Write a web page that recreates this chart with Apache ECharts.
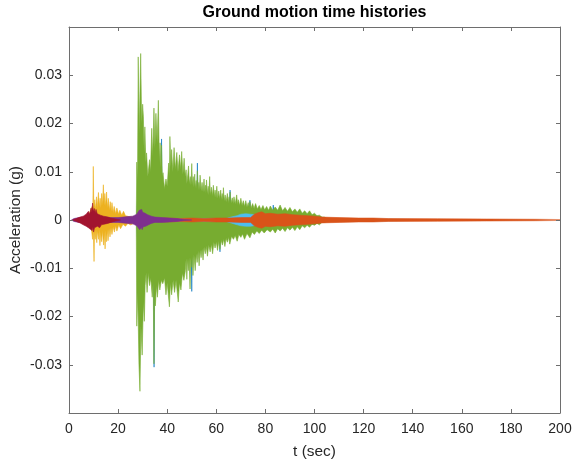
<!DOCTYPE html>
<html>
<head>
<meta charset="utf-8">
<script src="https://cdn.jsdelivr.net/npm/echarts@6/dist/echarts.min.js"></script>
<style>
html,body{margin:0;padding:0;background:#fff;}
#chart{width:575px;height:461px;}
</style>
</head>
<body>
<div id="chart"></div>
<script>
// Envelope readings (t [s], acceleration [g])
var blueUpper = [[27.5,0],[28,0.005],[37.5,0.005],[37.7,0.0168],[37.9,0.005],[50,0.005],[52.1,0.0045],[52.3,0.0118],[52.5,0.0045],[60,0.0035],[65.4,0.003],[65.6,0.0062],[65.8,0.003],[73.5,0.0024],[73.7,0.0041],[73.9,0.0022],[83,0.0018],[83.2,0.0031],[83.4,0.0018],[90,0.0015],[100,0.0009],[106,0.0002],[108,0]];
var blueLower = [[27.5,0],[28,-0.005],[34.5,-0.005],[34.65,-0.0305],[34.8,-0.005],[49.8,-0.005],[50.0,-0.0148],[50.2,-0.005],[61.4,-0.0036],[61.5,-0.0066],[61.6,-0.0036],[70,-0.0025],[83,-0.0016],[100,-0.0008],[106,-0.0002],[108,0]];

var greenUpper = [[27.4,0],[27.6,0.012],[27.9,0.008],[28.2,0.0338],[28.6,0.018],[29.2,0.0345],[29.6,0.02],[30.0,0.024],[30.3,0.0214],[30.6,0.014],[30.9,0.0193],[31.3,0.012],[31.6,0.0139],[32.1,0.009],[32.8,0.0125],[33.2,0.010],[33.7,0.019],[34.1,0.013],[34.6,0.0232],[35.0,0.015],[35.4,0.0221],[35.9,0.016],[36.4,0.0248],[36.8,0.012],[37.1,0.016],[37.4,0.011],[37.7,0.0155],[38.0,0.009],[38.3,0.0098],[38.9,0.0065],[39.5,0.0085],[40.0,0.007],[40.6,0.0118],[40.9,0.009],[41.1,0.0173],[41.5,0.011],[41.8,0.0146],[42.3,0.010],[42.8,0.015],[43.3,0.0105],[43.9,0.014],[44.4,0.010],[45.0,0.0135],[45.5,0.0105],[45.9,0.0142],[46.4,0.0095],[46.9,0.0128],[47.3,0.009],[47.7,0.0104],[48.0,0.0075],[48.4,0.0095],[48.7,0.0112],[49.0,0.0075],[49.4,0.009],[49.7,0.0072],[50.0,0.0117],[50.3,0.0072],[50.6,0.009],[50.9,0.0068],[51.2,0.0095],[51.5,0.0066],[51.8,0.0082],[52.0,0.0064],[52.3,0.0102],[52.6,0.0062],[52.9,0.0078],[53.1,0.0062],[53.4,0.0093],[53.8,0.006],[54.2,0.0078],[54.6,0.0058],[55.0,0.0085],[55.3,0.0058],[55.6,0.0072],[55.8,0.0056],[56.0,0.0083],[56.4,0.0054],[56.7,0.007],[57.0,0.0052],[57.3,0.009],[57.6,0.0052],[58.0,0.0068],[58.4,0.005],[58.8,0.0072],[59.2,0.0048],[59.5,0.0062],[59.9,0.0046],[60.2,0.007],[60.6,0.0045],[61.0,0.006],[61.4,0.0044],[61.8,0.0062],[62.1,0.0042],[62.4,0.0055],[62.7,0.0042],[62.9,0.0067],[63.2,0.004],[63.6,0.0052],[64.0,0.0038],[64.5,0.0055],[64.9,0.0036],[65.2,0.0048],[65.4,0.0036],[65.6,0.0058],[66.0,0.0035],[66.5,0.0046],[66.9,0.0034],[67.2,0.0048],[67.7,0.0033],[68.3,0.0052],[68.7,0.0032],[69.0,0.0042],[69.5,0.003],[70.0,0.0045],[70.5,0.003],[71.0,0.004],[71.5,0.0028],[72.0,0.004],[72.5,0.0027],[73.0,0.0036],[73.4,0.0027],[73.7,0.0038],[74.2,0.0025],[74.8,0.0034],[75.4,0.0024],[76.0,0.0034],[76.7,0.0023],[77.5,0.003],[78.2,0.0022],[79.0,0.003],[79.7,0.0021],[80.5,0.0028],[81.3,0.002],[82.0,0.0029],[83.0,0.002],[84.0,0.0027],[85.0,0.002],[86.0,0.0031],[87.0,0.0019],[88.0,0.0026],[89.0,0.0018],[90.0,0.0026],[91.0,0.0017],[92.0,0.0023],[93.0,0.0016],[94.0,0.0023],[95.0,0.0014],[96.0,0.0019],[97.0,0.0013],[98.0,0.0019],[99.0,0.0011],[100.0,0.0014],[101.0,0.0009],[102.0,0.001],[103,0.0006],[104.0,0.0006],[105,0.0003],[106.0,0.0002],[108,0]];
var greenLower = [[27.4,0],[27.6,-0.022],[28.0,-0.015],[28.5,-0.030],[28.9,-0.0355],[29.3,-0.022],[29.8,-0.028],[30.3,-0.017],[30.7,-0.021],[31.0,-0.0136],[31.4,-0.011],[31.8,-0.015],[32.3,-0.011],[32.8,-0.0136],[33.3,-0.012],[33.9,-0.016],[34.3,-0.013],[34.6,-0.0298],[34.9,-0.016],[35.2,-0.0178],[35.6,-0.0135],[36.0,-0.016],[36.5,-0.0125],[37.0,-0.0145],[37.6,-0.0125],[38.2,-0.0132],[38.9,-0.012],[39.5,-0.0155],[40.0,-0.013],[40.9,-0.018],[41.3,-0.013],[41.8,-0.0155],[42.4,-0.0125],[43.0,-0.015],[43.6,-0.0125],[44.5,-0.017],[45.0,-0.013],[45.6,-0.0145],[46.2,-0.011],[46.8,-0.0125],[47.4,-0.0105],[47.7,-0.008],[48.0,-0.0123],[48.3,-0.008],[48.6,-0.0105],[48.9,-0.0078],[49.3,-0.0143],[49.6,-0.0078],[49.9,-0.0098],[50.2,-0.0075],[50.5,-0.0115],[50.9,-0.0072],[51.4,-0.0105],[51.8,-0.007],[52.2,-0.0088],[52.6,-0.0065],[53.0,-0.0095],[53.4,-0.0062],[53.8,-0.0078],[54.2,-0.006],[54.6,-0.0083],[55.0,-0.0056],[55.5,-0.007],[55.9,-0.0054],[56.4,-0.0075],[56.9,-0.0052],[57.5,-0.0066],[58.0,-0.005],[58.5,-0.007],[59.0,-0.0046],[59.5,-0.0058],[60.0,-0.0045],[60.5,-0.0063],[61.0,-0.0044],[61.5,-0.0061],[62.0,-0.0042],[62.5,-0.0052],[63.0,-0.004],[63.5,-0.0055],[64.0,-0.0038],[64.5,-0.0046],[65.0,-0.0036],[65.5,-0.005],[66.2,-0.0034],[67.0,-0.004],[67.7,-0.0032],[68.5,-0.0044],[69.2,-0.003],[70.0,-0.0036],[70.7,-0.0029],[71.5,-0.004],[72.5,-0.0028],[73.7,-0.0037],[74.6,-0.0025],[75.5,-0.003],[76.5,-0.0023],[77.5,-0.0028],[78.5,-0.0021],[79.5,-0.0027],[80.7,-0.002],[82.0,-0.0025],[83.0,-0.0019],[84.0,-0.0027],[85.0,-0.0018],[86.0,-0.0023],[87.0,-0.0017],[88.0,-0.0024],[89.0,-0.0016],[90.0,-0.0021],[91.0,-0.0015],[92.0,-0.0022],[93.0,-0.0014],[94.0,-0.002],[95.0,-0.0012],[96.0,-0.0016],[97.0,-0.0011],[98.0,-0.0015],[99.0,-0.0009],[100.0,-0.0011],[101,-0.0007],[102.0,-0.001],[103,-0.0005],[104.0,-0.0005],[105,-0.0003],[106.0,-0.0002],[108,0]];

var lightBlueUpper = [[40,0],[44,0.0003],[50,0.0002],[55,0.0003],[60,0.0003],[64,0.0003],[66,0.0006],[68.5,0.0009],[70,0.0012],[72,0.0013],[74,0.0012],[76,0.0011],[78,0.0009],[85,0.0006],[95,0.0004],[105,0.0003],[120,0.0002],[140,0.0001],[160,0]];
var lightBlueLower = [[40,0],[44,-0.0003],[50,-0.0002],[55,-0.0003],[60,-0.0003],[64,-0.0003],[66,-0.0006],[68.5,-0.001],[70,-0.0012],[72,-0.0013],[74,-0.0013],[76,-0.0011],[78,-0.0009],[85,-0.0006],[95,-0.0004],[105,-0.0003],[120,-0.0002],[140,-0.0001],[160,0]];

var yellowUpper = [[5,0],[6,0.0004],[7,0.0009],[7.6,0.0006],[8.3,0.0014],[8.8,0.001],[9.4,0.0028],[9.7,0.002],[9.9,0.0111],[10.1,0.0025],[10.5,0.0042],[10.8,0.002],[11.2,0.0048],[11.5,0.0025],[12.0,0.0057],[12.3,0.0028],[12.7,0.0045],[13.0,0.0025],[13.3,0.0055],[13.6,0.003],[14.0,0.0073],[14.3,0.003],[14.6,0.0055],[14.9,0.0028],[15.3,0.0058],[15.6,0.0025],[16.0,0.0045],[16.4,0.002],[16.8,0.0038],[17.2,0.0018],[17.5,0.0036],[18.0,0.0015],[18.4,0.0028],[19.0,0.0013],[19.5,0.0025],[20.2,0.0012],[20.7,0.002],[21.5,0.001],[22.2,0.0018],[23,0.0009],[23.6,0.0013],[24.5,0.0007],[25.2,0.001],[26.5,0.0006],[27.7,0.0005],[29,0.0003],[32,0]];
var yellowLower = [[5,0],[6.5,-0.0005],[7.3,-0.001],[7.8,-0.0007],[8.5,-0.0017],[9.0,-0.0012],[9.6,-0.004],[9.9,-0.002],[10.2,-0.0086],[10.4,-0.0022],[10.7,-0.004],[11.0,-0.002],[11.3,-0.0047],[11.6,-0.0022],[12.0,-0.004],[12.3,-0.002],[12.6,-0.0053],[12.9,-0.0025],[13.3,-0.0045],[13.6,-0.0022],[14.1,-0.0052],[14.4,-0.0025],[14.7,-0.006],[15.0,-0.0022],[15.3,-0.0045],[15.6,-0.002],[15.9,-0.0043],[16.3,-0.0018],[16.7,-0.0035],[17.1,-0.0016],[17.5,-0.003],[18.0,-0.0014],[18.5,-0.0025],[19.0,-0.0012],[19.5,-0.0023],[20.3,-0.001],[21,-0.0018],[22,-0.0009],[23,-0.0013],[24,-0.0007],[25,-0.001],[27,-0.0006],[29,-0.0003],[32,0]];

var orangeUpper = [[15,0],[17,0.0002],[20,0.0003],[25,0.0003],[30,0.0004],[35,0.0003],[40,0.0004],[45,0.0003],[50,0.0004],[55,0.0003],[60,0.0004],[65,0.0004],[70,0.0005],[74,0.0005],[75.5,0.0012],[77,0.0015],[78.5,0.0017],[80,0.0013],[82,0.0014],[85,0.0012],[88,0.0013],[91,0.0011],[94,0.001],[97,0.0009],[100,0.0008],[103,0.0006],[110,0.0005],[118,0.0004],[124,0.0004],[130,0.0003],[150,0.00025],[170,0.0002],[190,0.00015],[200,0.0001]];
var orangeLower = [[15,0],[17,-0.0002],[20,-0.0003],[25,-0.0003],[30,-0.0004],[35,-0.0003],[40,-0.0004],[45,-0.0003],[50,-0.0004],[55,-0.0003],[60,-0.0004],[65,-0.0004],[70,-0.0005],[74,-0.0005],[75.5,-0.0012],[77,-0.0015],[78.5,-0.0017],[80,-0.0013],[82,-0.0014],[85,-0.0012],[88,-0.0013],[91,-0.0011],[94,-0.001],[97,-0.0009],[100,-0.0008],[103,-0.0006],[110,-0.0005],[118,-0.0004],[124,-0.0004],[130,-0.0003],[150,-0.00025],[170,-0.0002],[190,-0.00015],[200,-0.0001]];

var purpleUpper = [[1,0],[2,0.0003],[4,0.0005],[6,0.0006],[8,0.0005],[12,0.0006],[15,0.0006],[17,0.0005],[20,0.0005],[22,0.0006],[24,0.0007],[26,0.0008],[27.6,0.0012],[28.0,0.0016],[28.3,0.0013],[28.6,0.002],[29.0,0.0024],[29.3,0.0017],[29.6,0.0022],[30.0,0.0016],[30.3,0.0019],[30.7,0.0012],[31.0,0.0014],[31.5,0.001],[32,0.0011],[33.5,0.0008],[35,0.0006],[38,0.0005],[41,0.0004],[44,0.0003],[47,0.0001],[50,0]];
var purpleLower = [[1,0],[2,-0.0003],[4,-0.0005],[6,-0.0006],[8,-0.0005],[12,-0.0006],[15,-0.0005],[17,-0.0005],[20,-0.0005],[22,-0.0006],[24,-0.0007],[26,-0.0008],[27.6,-0.0012],[28.0,-0.0015],[28.4,-0.0012],[28.8,-0.002],[29.1,-0.0022],[29.5,-0.0015],[29.8,-0.002],[30.2,-0.0014],[30.5,-0.0017],[30.9,-0.0011],[31.2,-0.0013],[32,-0.001],[33.5,-0.0007],[35,-0.0005],[38,-0.0005],[41,-0.0004],[44,-0.0003],[47,-0.0001],[50,0]];

var darkRedUpper = [[1.5,0],[3,0.0003],[4.5,0.0006],[5.8,0.0008],[6.5,0.0006],[7,0.0012],[7.5,0.0009],[7.9,0.0018],[8.4,0.0012],[9.0,0.0025],[9.3,0.0016],[9.6,0.0035],[9.9,0.0018],[10.3,0.0024],[10.7,0.0015],[11.0,0.0022],[11.5,0.0013],[12.0,0.0015],[12.8,0.001],[13.3,0.0012],[14,0.0008],[15.8,0.0006],[17,0.0004],[19,0.0002],[21,0]];
var darkRedLower = [[1.5,0],[3,-0.0003],[4.5,-0.0006],[5.8,-0.001],[6.4,-0.0008],[7.0,-0.0013],[7.5,-0.001],[7.9,-0.0016],[8.5,-0.0012],[9.4,-0.0022],[9.7,-0.0015],[10,-0.0025],[10.4,-0.0016],[11,-0.002],[11.6,-0.0013],[12.5,-0.0016],[13.2,-0.001],[14,-0.0011],[15.8,-0.0007],[17,-0.0005],[19,-0.0002],[21,0]];

var xTicks = [0,20,40,60,80,100,120,140,160,180,200];
var yTickLabels = ['-0.03','-0.02','-0.01','0','0.01','0.02','0.03'];

var traces = [
  {name:'blue', color:'#0072BD', up:blueUpper, low:blueLower},
  {name:'green', color:'#77AC30', up:greenUpper, low:greenLower},
  {name:'lightblue', color:'#4DBEEE', up:lightBlueUpper, low:lightBlueLower},
  {name:'yellow', color:'#EDB120', up:yellowUpper, low:yellowLower},
  {name:'orange', color:'#D95319', up:orangeUpper, low:orangeLower},
  {name:'purple', color:'#7E2F8E', up:purpleUpper, low:purpleLower},
  {name:'darkred', color:'#A2142F', up:darkRedUpper, low:darkRedLower}
];

var series = [];
traces.forEach(function(tr, i){
  [tr.up, tr.low].forEach(function(d, k){
    series.push({
      name: tr.name + (k ? '-' : '+'),
      type: 'line',
      data: d,
      z: 3 + i,
      showSymbol: false,
      symbol: 'none',
      silent: true,
      lineStyle: {color: tr.color, width: 0.6},
      areaStyle: {color: tr.color, opacity: 1},
      itemStyle: {color: tr.color}
    });
  });
});

var font = '"Liberation Sans", Arial, Helvetica, sans-serif';
var axisCol = '#6e6e6e';
var textCol = '#262626';

function fmtY(v){
  if (Math.abs(v) > 0.035) return '';
  if (Math.abs(v) < 1e-9) return '0';
  var s = v.toFixed(2);
  return yTickLabels.indexOf(s) >= 0 ? s : '';
}

var axisCommon = {
  axisLine: {show: true, onZero: false, lineStyle: {color: axisCol, width: 1}},
  axisTick: {show: true, inside: true, length: 4, lineStyle: {color: axisCol}},
  splitLine: {show: false}, z: 20
};

var chart = echarts.init(document.getElementById('chart'), null, {renderer:'canvas'});
chart.setOption({
  animation: false,
  backgroundColor: '#fff',
  graphic: [{
    type: 'text', x: 314.5, y: 13,
    style: {text: 'Ground motion time histories', align: 'center', verticalAlign: 'middle',
      fontFamily: font, fontSize: 16, fontWeight: 'bold', fill: '#000'}
  }],
  grid: {left: 69, right: 15, top: 27, bottom: 48, containLabel: false, outerBoundsMode: 'none'},
  xAxis: [Object.assign({
    type: 'value', min: xTicks[0], max: xTicks[xTicks.length-1], interval: 20,
    name: 't (sec)', nameLocation: 'middle', nameGap: 31, nameMoveOverlap: false,
    nameTextStyle: {fontFamily: font, fontSize: 15.4, color: textCol},
    axisLabel: {fontFamily: font, fontSize: 14, color: textCol, margin: 9}
  }, axisCommon), Object.assign({
    type: 'value', position: 'top', min: 0, max: 200, interval: 20,
    axisLabel: {show: false}
  }, axisCommon)],
  yAxis: [Object.assign({
    type: 'value', min: -0.04, max: 0.04, interval: 0.01,
    name: 'Acceleration (g)', nameLocation: 'middle', nameGap: 46, nameRotate: 90, nameMoveOverlap: false,
    nameTextStyle: {fontFamily: font, fontSize: 15.4, color: textCol},
    axisLabel: {fontFamily: font, fontSize: 14, color: textCol, margin: 7, formatter: fmtY}
  }, axisCommon), Object.assign({
    type: 'value', position: 'right', min: -0.04, max: 0.04, interval: 0.01,
    axisLabel: {show: false}
  }, axisCommon)],
  series: series
});
</script>
</body>
</html>
